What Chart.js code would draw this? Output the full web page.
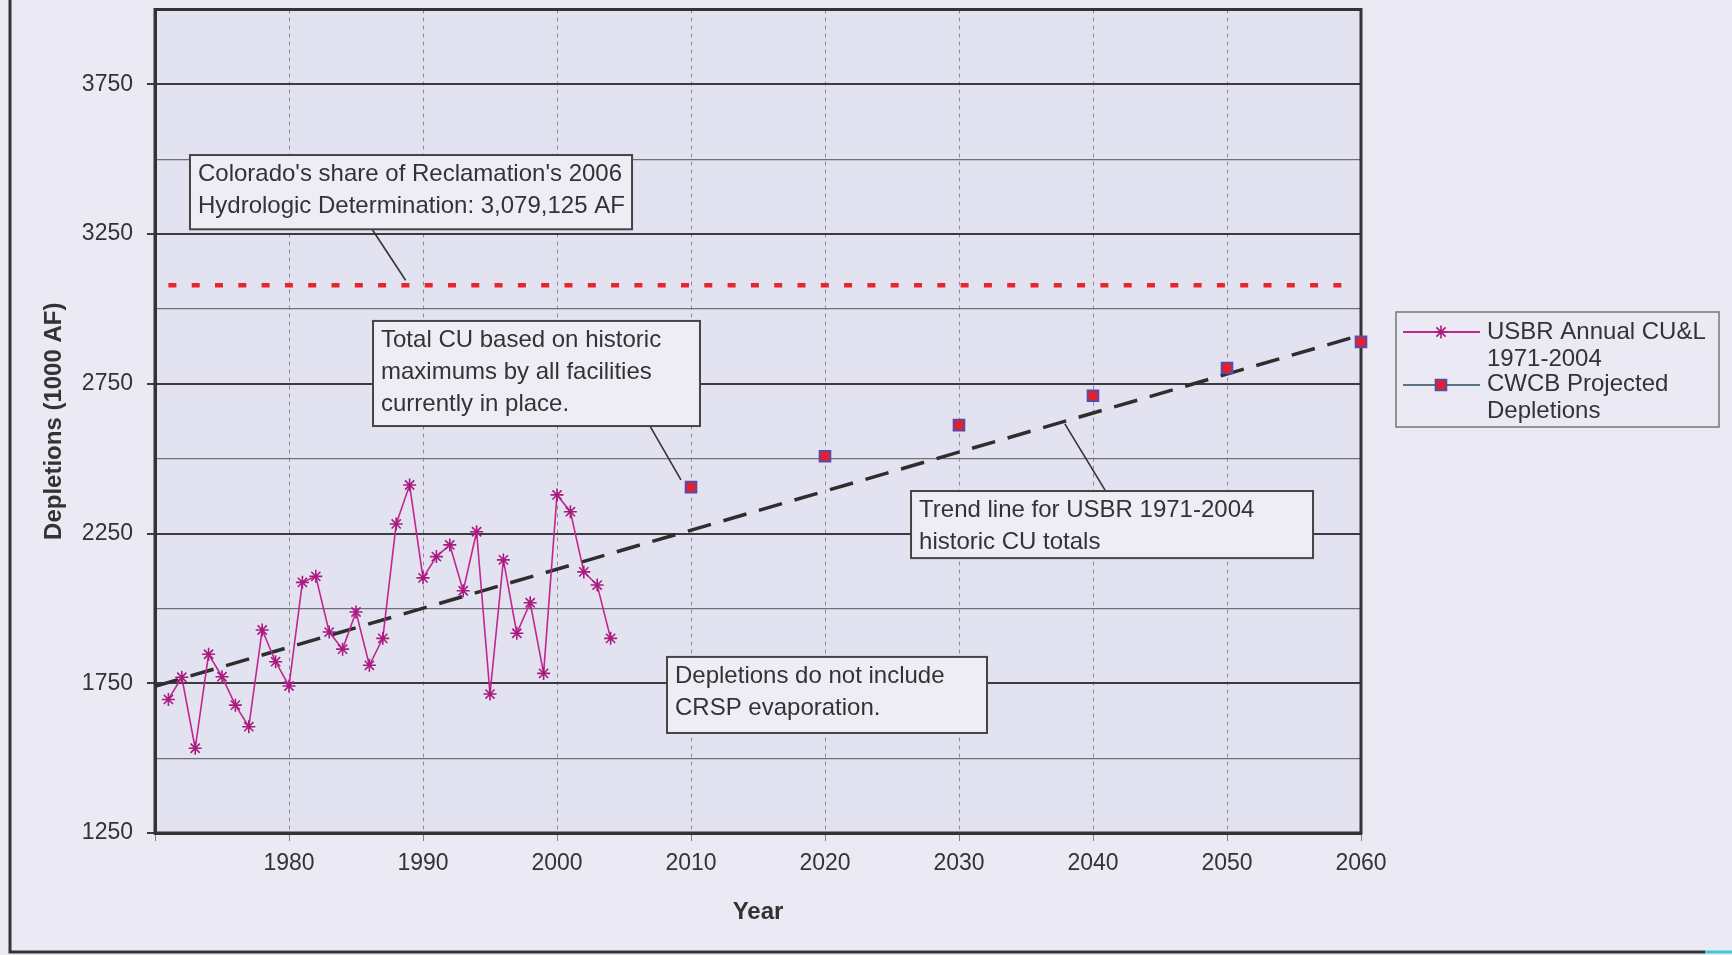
<!DOCTYPE html>
<html>
<head>
<meta charset="utf-8">
<style>
html,body{margin:0;padding:0;background:#EBEAF4;overflow:hidden;}
canvas{display:block;}
</style>
<script src="https://cdn.jsdelivr.net/npm/chart.js@4/dist/chart.umd.min.js"></script>
</head>
<body>
<canvas id="c" width="1732" height="955"></canvas>
<script>
// ---- data ----
const usbrYears = [1971,1972,1973,1974,1975,1976,1977,1978,1979,1980,1981,1982,1983,1984,1985,1986,1987,1988,1989,1990,1991,1992,1993,1994,1995,1996,1997,1998,1999,2000,2001,2002,2003,2004];
const usbrValues = [1696,1770,1533,1847,1772,1677,1605,1928,1822,1741,2087,2107,1921,1864,1988,1810,1900,2282,2412,2102,2173,2212,2059,2256,1714,2162,1917,2019,1783,2379,2323,2122,2078,1900];
const cwcbYears = [2010,2020,2030,2040,2050,2060];
const cwcbValues = [2405,2508,2612,2710,2803,2890];
const trendYears = [1970,2060];
const trendValues = [1740,2913];
const shareYears = [1971,2059];
const shareValues = [3079.125,3079.125];
const xTickYears = [1970,1980,1990,2000,2010,2020,2030,2040,2050,2060];
const yLabelValues = [1250,1750,2250,2750,3250,3750];

const FONT = "'Liberation Sans', Arial, sans-serif";
const TXT = '#333333';

const pts = (xs, ys) => xs.map((x, i) => ({x: x, y: ys[i]}));

// annotation boxes placed in data coordinates
const notes = [
  {box:[1972.61, 3514, 2005.6, 3266],
   lines:["Colorado's share of Reclamation's 2006", "Hydrologic Determination: 3,079,125 AF"],
   pointer:[[1986.2, 3266],[1988.7, 3096]]},
  {box:[1986.27, 2960, 2010.67, 2609],
   lines:["Total CU based on historic", "maximums by all facilities", "currently in place."],
   pointer:[[2006.94, 2609],[2009.25, 2429]]},
  {box:[2026.42, 2392, 2056.42, 2168],
   lines:["Trend line for USBR 1971-2004", "historic CU totals"],
   pointer:[[2040.9, 2395],[2037.9, 2616]]},
  {box:[2008.21, 1838, 2032.09, 1584],
   lines:["Depletions do not include", "CRSP evaporation."],
   pointer:null}
];

const bgPlugin = {
  id: 'bg',
  beforeDraw(chart) {
    const ctx = chart.ctx, a = chart.chartArea;
    ctx.save();
    ctx.fillStyle = '#EBEAF4';
    ctx.fillRect(0, 0, chart.width, chart.height);
    ctx.fillStyle = '#E3E2F0';
    ctx.fillRect(a.left, a.top, a.right - a.left, a.bottom - a.top);
    ctx.restore();
  }
};

const framePlugin = {
  id: 'frame',
  beforeDatasetsDraw(chart) {
    const ctx = chart.ctx, a = chart.chartArea;
    ctx.save();
    ctx.strokeStyle = '#333';
    ctx.lineWidth = 3;
    ctx.strokeRect(a.left, a.top, a.right - a.left, a.bottom - a.top);
    // outer picture frame (left and bottom edges)
    ctx.beginPath();
    ctx.moveTo(10, 0); ctx.lineTo(10, 952);
    ctx.lineTo(1705, 952);
    ctx.stroke();
    ctx.strokeStyle = '#3fc8d8';
    ctx.beginPath();
    ctx.moveTo(1705, 952); ctx.lineTo(1732, 952);
    ctx.stroke();
    ctx.restore();
  }
};

const notesPlugin = {
  id: 'notes',
  afterDatasetsDraw(chart) {
    const ctx = chart.ctx, xs = chart.scales.x, ys = chart.scales.y;
    ctx.save();
    notes.forEach(n => {
      if (n.pointer) {
        ctx.strokeStyle = '#333';
        ctx.lineWidth = 1.6;
        ctx.beginPath();
        ctx.moveTo(xs.getPixelForValue(n.pointer[0][0]), ys.getPixelForValue(n.pointer[0][1]));
        ctx.lineTo(xs.getPixelForValue(n.pointer[1][0]), ys.getPixelForValue(n.pointer[1][1]));
        ctx.stroke();
      }
    });
    notes.forEach(n => {
      const x1 = xs.getPixelForValue(n.box[0]), y1 = ys.getPixelForValue(n.box[1]);
      const x2 = xs.getPixelForValue(n.box[2]), y2 = ys.getPixelForValue(n.box[3]);
      ctx.fillStyle = '#EEEDF6';
      ctx.fillRect(x1, y1, x2 - x1, y2 - y1);
      ctx.strokeStyle = '#444';
      ctx.lineWidth = 2;
      ctx.strokeRect(x1, y1, x2 - x1, y2 - y1);
      ctx.fillStyle = TXT;
      ctx.font = '24px ' + FONT;
      ctx.textAlign = 'left';
      ctx.textBaseline = 'middle';
      n.lines.forEach((t, i) => ctx.fillText(t, x1 + 8, y1 + 19 + i * 32));
    });
    ctx.restore();
  }
};

const legendPlugin = {
  id: 'customLegend',
  afterDraw(chart) {
    const ctx = chart.ctx;
    const H = Chart.helpers;
    ctx.save();
    ctx.strokeStyle = '#777';
    ctx.lineWidth = 1.5;
    ctx.strokeRect(1396, 312, 323, 115);
    const ds = chart.data.datasets;
    // entry 1
    ctx.strokeStyle = ds[0].borderColor;
    ctx.lineWidth = 2;
    ctx.beginPath(); ctx.moveTo(1403, 332); ctx.lineTo(1480, 332); ctx.stroke();
    ctx.strokeStyle = ds[0].pointBorderColor;
    ctx.lineWidth = ds[0].pointBorderWidth;
    H.drawPoint(ctx, {pointStyle: ds[0].pointStyle, radius: ds[0].pointRadius, rotation: 0, borderWidth: ds[0].pointBorderWidth}, 1441, 332);
    // entry 2
    ctx.strokeStyle = '#567483';
    ctx.lineWidth = 2;
    ctx.beginPath(); ctx.moveTo(1403, 385); ctx.lineTo(1480, 385); ctx.stroke();
    ctx.fillStyle = ds[1].pointBackgroundColor;
    ctx.strokeStyle = ds[1].pointBorderColor;
    ctx.lineWidth = ds[1].pointBorderWidth;
    H.drawPoint(ctx, {pointStyle: 'rect', radius: ds[1].pointRadius, rotation: 0, borderWidth: ds[1].pointBorderWidth}, 1441, 385);
    ctx.fillStyle = TXT;
    ctx.font = '24px ' + FONT;
    ctx.textAlign = 'left';
    ctx.textBaseline = 'middle';
    ctx.fillText('USBR Annual CU&L', 1487, 332);
    ctx.fillText('1971-2004', 1487, 359);
    ctx.fillText('CWCB Projected', 1487, 384);
    ctx.fillText('Depletions', 1487, 411);
    ctx.restore();
  }
};

new Chart(document.getElementById('c'), {
  type: 'line',
  data: {
    datasets: [
      {
        label: 'USBR Annual CU&L 1971-2004',
        data: pts(usbrYears, usbrValues),
        borderColor: '#C2278F',
        borderWidth: 1.6,
        pointStyle: 'star',
        pointRadius: 6.5,
        pointBorderColor: '#A81C80',
        pointBorderWidth: 1.6,
        pointBackgroundColor: '#A81C80',
        tension: 0,
        fill: false,
        order: 1
      },
      {
        label: 'CWCB Projected Depletions',
        data: pts(cwcbYears, cwcbValues),
        showLine: false,
        pointStyle: 'rect',
        pointRadius: 7.5,
        pointBackgroundColor: '#E3202C',
        pointBorderColor: '#5A4AA6',
        pointBorderWidth: 2,
        clip: false,
        order: 0
      },
      {
        label: 'Trend',
        data: pts(trendYears, trendValues),
        borderColor: '#2E2E2E',
        borderWidth: 3.5,
        borderDash: [24, 13],
        pointRadius: 0,
        fill: false,
        order: 2
      },
      {
        label: 'Share',
        data: pts(shareYears, shareValues),
        borderColor: '#E8242C',
        borderWidth: 4.5,
        borderDash: [8, 15.3],
        pointRadius: 0,
        fill: false,
        order: 3
      }
    ]
  },
  options: {
    responsive: false,
    animation: false,
    devicePixelRatio: 1,
    layout: {padding: {top: 9, left: 0, right: 371, bottom: 0}},
    plugins: {legend: {display: false}, tooltip: {enabled: false}},
    scales: {
      x: {
        type: 'linear',
        min: 1970, max: 2060,
        afterFit(s) { s.height = 122; s.paddingLeft = 0; s.paddingRight = 0; },
        afterBuildTicks(s) { s.ticks = xTickYears.map(v => ({value: v})); },
        ticks: {
          autoSkip: false,
          maxRotation: 0,
          padding: 9,
          color: TXT,
          font: {family: FONT, size: 23},
          callback: v => (v === xTickYears[0] ? '' : String(v))
        },
        grid: {
          color: c => (c.tick && (c.tick.value === 1970 || c.tick.value === 2060)) ? 'rgba(0,0,0,0)' : '#8c8c96',
          lineWidth: 1,
          tickColor: '#808080',
          tickLength: 8,
          tickBorderDash: []
        },
        border: {display: true, color: '#333', width: 3, dash: [4, 4]},
        title: {
          display: true, text: 'Year', color: '#333',
          font: {family: FONT, size: 24, weight: 'bold'},
          padding: {top: 0, bottom: 28}
        }
      },
      y: {
        type: 'linear',
        min: 1250, max: 4000,
        afterFit(s) { s.width = 155; s.paddingTop = 0; s.paddingBottom = 0; },
        ticks: {
          stepSize: 250,
          autoSkip: false,
          padding: 14,
          color: TXT,
          font: {family: FONT, size: 23},
          callback: v => (yLabelValues.includes(v) ? String(v) : '')
        },
        grid: {
          color: c => (c.tick && yLabelValues.includes(c.tick.value)) ? '#3c3c3c' : '#707078',
          lineWidth: c => (c.tick && yLabelValues.includes(c.tick.value)) ? 2 : 1.2,
          tickColor: c => (c.tick && yLabelValues.includes(c.tick.value)) ? '#3c3c3c' : 'rgba(0,0,0,0)',
          tickLength: 8
        },
        border: {display: true, color: '#333', width: 3},
        title: {
          display: true, text: 'Depletions (1000 AF)', color: '#333',
          font: {family: FONT, size: 24, weight: 'bold'},
          padding: {top: 40, bottom: 0}
        }
      }
    }
  },
  plugins: [bgPlugin, framePlugin, notesPlugin, legendPlugin]
});
</script>
</body>
</html>
